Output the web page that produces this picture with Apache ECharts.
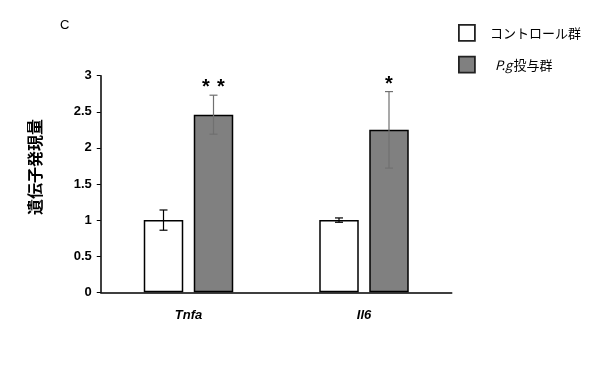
<!DOCTYPE html>
<html><head><meta charset="utf-8">
<script src="https://cdn.jsdelivr.net/npm/echarts@6/dist/echarts.min.js"></script>
<style>html,body{margin:0;padding:0;background:#fff}#c{width:598px;height:378px}</style>
</head><body><div id="c"></div>
<script>
const categories = ['Tnfa', 'Il6'];
const controlName = 'コントロール群';
const pgName = 'P.g投与群';
const controlValues = [1.0, 1.0];
const controlErr = [0.14, 0.03];
const pgValues = [2.46, 2.25];
const pgErr = [0.27, 0.53];
const pgStars = [2, 1];
const yTicks = ['0', '0.5', '1', '1.5', '2', '2.5', '3'];
const yTitle = '遺伝子発現量';

const chart = echarts.init(document.getElementById('c'));
const barW = 39.5;
const gapPx = 10.5;

function errSeries(name, vals, errs, color, offsetSign, stars) {
  return {
    type: 'custom',
    name: name + '_err',
    z: 5,
    data: vals.map((v, i) => [i, v - errs[i], v + errs[i]]),
    renderItem: function (params, api) {
      const i = api.value(0);
      const lo = api.coord([i, api.value(1)]);
      const hi = api.coord([i, api.value(2)]);
      const x = lo[0] + offsetSign * (barW / 2 + gapPx / 2);
      const cap = 4;
      const children = [
        { type: 'line', shape: { x1: x, y1: lo[1], x2: x, y2: hi[1] }, style: { stroke: color, lineWidth: 1.2 } },
        { type: 'line', shape: { x1: x - cap, y1: lo[1], x2: x + cap, y2: lo[1] }, style: { stroke: color, lineWidth: 1.2 } },
        { type: 'line', shape: { x1: x - cap, y1: hi[1], x2: x + cap, y2: hi[1] }, style: { stroke: color, lineWidth: 1.2 } }
      ];
      const n = stars ? stars[params.dataIndex] : 0;
      for (let k = 0; k < n; k++) {
        const sx = x + (k - (n - 1) / 2) * 15;
        children.push({ type: 'text', x: sx, y: hi[1] - 7.5, style: { text: '*', align: 'center', verticalAlign: 'middle', fill: '#000', font: 'bold 20px "Liberation Sans", sans-serif' } });
      }
      return { type: 'group', children: children };
    }
  };
}

const option = {
  animation: false,
  backgroundColor: '#fff',
  grid: { left: 100.75, right: 146.25, top: 75.7, bottom: 85.7, containLabel: false },
  title: { text: 'C', left: 55, top: 14, textStyle: { fontSize: 13, fontWeight: 'normal', color: '#000', fontFamily: '"Liberation Sans", sans-serif' } },
  graphic: [{
    type: 'text', x: 35, y: 167, rotation: Math.PI / 2,
    style: { text: yTitle, align: 'center', verticalAlign: 'middle', fill: '#000', font: 'bold 16px "Noto Sans CJK JP", sans-serif' }
  }],
  legend: {
    orient: 'vertical', left: 458, top: 24, padding: 0, itemWidth: 16, itemHeight: 16, itemGap: 14,
    data: [controlName, pgName],
    icon: 'rect',
    itemStyle: { borderColor: '#222', borderWidth: 1.8 },
    formatter: function (n) { return n === pgName ? '{i|P.g}{n|投与群}' : '{n|' + n + '}'; },
    textStyle: {
      lineHeight: 16,
      padding: [0, 0, 0, 10],
      rich: {
        i: { fontStyle: 'italic', fontSize: 13, lineHeight: 16, fontFamily: '"Noto Sans CJK JP", sans-serif', color: '#000', padding: [0, 1, 0, 5] },
        n: { fontSize: 13, lineHeight: 16, fontFamily: '"Noto Sans CJK JP", sans-serif', color: '#000' }
      }
    }
  },
  xAxis: {
    type: 'category', data: categories,
    axisLine: { lineStyle: { color: '#000', width: 1.5 } },
    axisTick: { show: false },
    axisLabel: { margin: 17, fontStyle: 'italic', fontWeight: 'bold', fontSize: 13, color: '#000', fontFamily: '"Liberation Sans", sans-serif' }
  },
  yAxis: {
    type: 'value', min: 0, max: 3, interval: 0.5,
    axisLine: { show: true, lineStyle: { color: '#000', width: 1.5 } },
    axisTick: { show: true, length: 4, lineStyle: { color: '#000' } },
    splitLine: { show: false },
    axisLabel: { margin: 9, fontWeight: 'bold', fontSize: 13, color: '#000', fontFamily: '"Liberation Sans", sans-serif',
      formatter: function (v) { return yTicks[Math.round(v * 2)]; } }
  },
  series: [
    { type: 'bar', name: controlName, data: controlValues, barWidth: barW, barGap: (gapPx / barW * 100) + '%',
      itemStyle: { color: '#fff', borderColor: '#000', borderWidth: 1.5 } },
    { type: 'bar', name: pgName, data: pgValues, barWidth: barW,
      itemStyle: { color: '#808080', borderColor: '#000', borderWidth: 1.5 } },
    errSeries(controlName, controlValues, controlErr, '#000', -1, null),
    errSeries(pgName, pgValues, pgErr, '#707070', 1, pgStars)
  ]
};
chart.setOption(option);
</script>
</body></html>
